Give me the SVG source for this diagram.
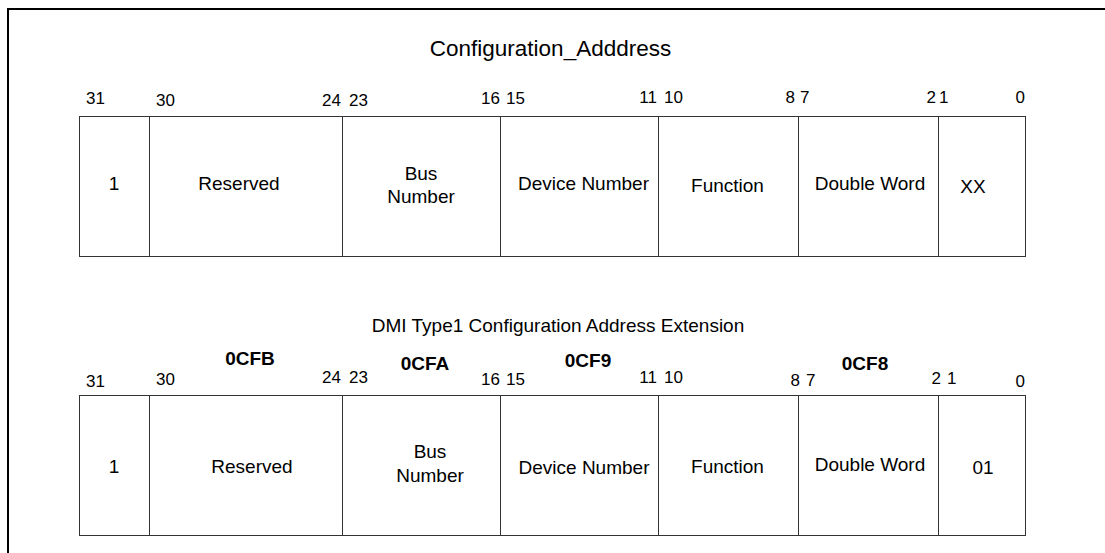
<svg xmlns="http://www.w3.org/2000/svg" width="1105" height="553" viewBox="0 0 1105 553">
<style>
text{font-family:"Liberation Sans",Arial,sans-serif;fill:#000}
.t{font-size:22.5px;text-anchor:middle}
.st{font-size:19px;text-anchor:middle}
.n{font-size:17px}
.e{text-anchor:end}
.l{font-size:19px;text-anchor:middle}
.b{font-size:19px;font-weight:bold;text-anchor:middle}
.c{fill:#fff;stroke:#333;stroke-width:1}
.frame{fill:none;stroke:#000;stroke-width:2}
</style>
<rect width="1105" height="553" fill="#fff"/>
<path class="frame" d="M8,553 V9 H1105"/>

<g id="top-register">
<text class="t" x="550.5" y="56">Configuration_Adddress</text>
<g id="top-bits">
<text class="n" x="86" y="104">31</text>
<text class="n" x="156" y="106">30</text>
<text class="n e" x="341" y="106">24</text>
<text class="n" x="349" y="106">23</text>
<text class="n e" x="500" y="104">16</text>
<text class="n" x="506" y="104">15</text>
<text class="n e" x="657" y="103">11</text>
<text class="n" x="664" y="103">10</text>
<text class="n e" x="795" y="103">8</text>
<text class="n" x="800" y="103">7</text>
<text class="n e" x="936" y="103">2</text>
<text class="n" x="939" y="103">1</text>
<text class="n e" x="1025" y="103">0</text>
</g>
<g id="top-f31"><rect class="c" x="79.5" y="116.5" width="70" height="140"/><text class="l" x="114" y="190">1</text></g>
<g id="top-reserved"><rect class="c" x="149.5" y="116.5" width="193" height="140"/><text class="l" x="239" y="190">Reserved</text></g>
<g id="top-bus"><rect class="c" x="342.5" y="116.5" width="158" height="140"/><text class="l" x="421" y="180">Bus</text><text class="l" x="421" y="203">Number</text></g>
<g id="top-device"><rect class="c" x="500.5" y="116.5" width="158" height="140"/><text class="l" x="583.5" y="190">Device Number</text></g>
<g id="top-function"><rect class="c" x="658.5" y="116.5" width="140" height="140"/><text class="l" x="727.5" y="192">Function</text></g>
<g id="top-dword"><rect class="c" x="798.5" y="116.5" width="140" height="140"/><text class="l" x="870" y="190">Double Word</text></g>
<g id="top-xx"><rect class="c" x="938.5" y="116.5" width="87" height="140"/><text class="l" x="973" y="193">XX</text></g>
</g>

<g id="bottom-register">
<text class="st" x="558" y="332">DMI Type1 Configuration Address Extension</text>
<g id="bottom-ports">
<text class="b" x="250" y="365">0CFB</text>
<text class="b" x="425" y="370">0CFA</text>
<text class="b" x="588" y="367">0CF9</text>
<text class="b" x="865" y="370">0CF8</text>
</g>
<g id="bottom-bits">
<text class="n" x="86" y="387">31</text>
<text class="n" x="156" y="385">30</text>
<text class="n e" x="341" y="383">24</text>
<text class="n" x="349" y="383">23</text>
<text class="n e" x="500" y="385">16</text>
<text class="n" x="506" y="385">15</text>
<text class="n e" x="657" y="383">11</text>
<text class="n" x="664" y="383">10</text>
<text class="n e" x="800" y="386">8</text>
<text class="n" x="806" y="386">7</text>
<text class="n e" x="941" y="384">2</text>
<text class="n" x="947" y="384">1</text>
<text class="n e" x="1025" y="387">0</text>
</g>
<g id="bot-f31"><rect class="c" x="79.5" y="395.5" width="70" height="140"/><text class="l" x="114" y="473">1</text></g>
<g id="bot-reserved"><rect class="c" x="149.5" y="395.5" width="193" height="140"/><text class="l" x="252" y="473">Reserved</text></g>
<g id="bot-bus"><rect class="c" x="342.5" y="395.5" width="158" height="140"/><text class="l" x="430" y="458">Bus</text><text class="l" x="430" y="482">Number</text></g>
<g id="bot-device"><rect class="c" x="500.5" y="395.5" width="158" height="140"/><text class="l" x="584" y="474">Device Number</text></g>
<g id="bot-function"><rect class="c" x="658.5" y="395.5" width="140" height="140"/><text class="l" x="727.5" y="473">Function</text></g>
<g id="bot-dword"><rect class="c" x="798.5" y="395.5" width="140" height="140"/><text class="l" x="870" y="471">Double Word</text></g>
<g id="bot-01"><rect class="c" x="938.5" y="395.5" width="87" height="140"/><text class="l" x="983" y="474">01</text></g>
</g>
</svg>
